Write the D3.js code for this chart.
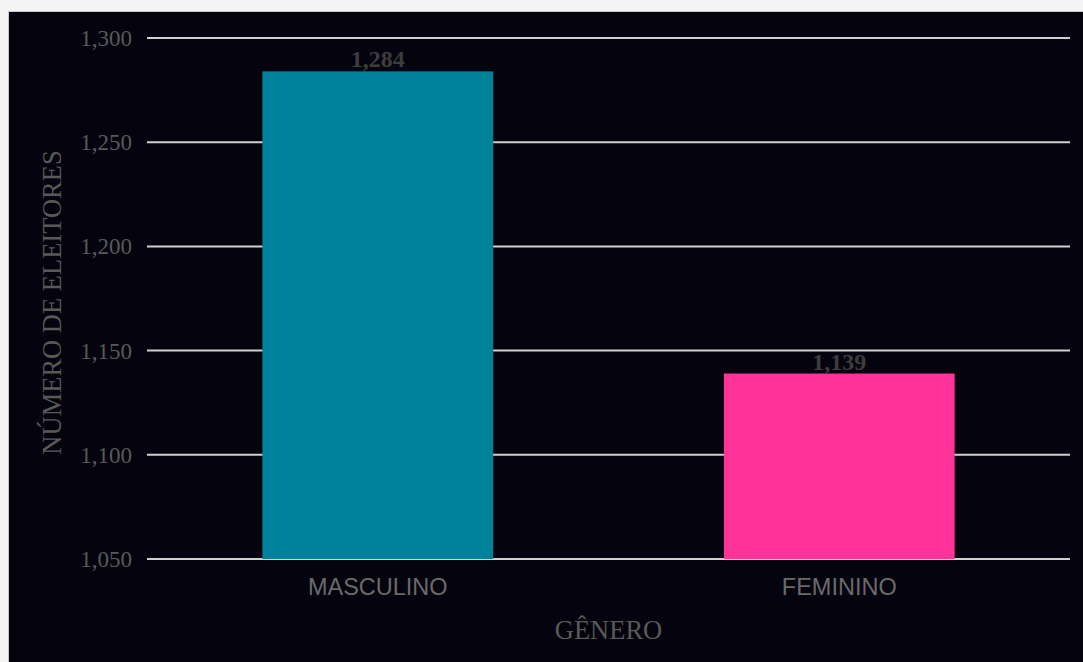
<!DOCTYPE html>
<html>
<head>
<meta charset="utf-8">
<script src="https://cdn.jsdelivr.net/npm/d3@7"></script>
<style>
  html, body { margin: 0; padding: 0; background: #f2f2f2; }
  svg { display: block; }
</style>
</head>
<body>
<svg id="chart" width="1083" height="662"></svg>
<script>
// Eleitores por gênero
const categories = ["MASCULINO", "FEMININO"];
const voters = [1284, 1139];
const barColors = ["#01829b", "#ff3399"];
const yTicks = [1050, 1100, 1150, 1200, 1250, 1300];

const W = 1083, H = 662;
const svg = d3.select("#chart");

// panel frame
svg.append("rect").attr("x", 0).attr("y", 0).attr("width", W).attr("height", H).attr("fill", "#f4f4f4");
svg.append("rect").attr("x", 8).attr("y", 11).attr("width", W - 8).attr("height", H - 11).attr("fill", "#c8c8c8");
svg.append("rect").attr("x", 9).attr("y", 12).attr("width", W - 9).attr("height", H - 12).attr("fill", "#05040e");

const plot = { left: 147, right: 1070, top: 38, bottom: 559 };

const x = d3.scaleBand().domain(categories).range([plot.left, plot.right])
  .paddingInner(0.5).paddingOuter(0.25);
const y = d3.scaleLinear().domain([1050, 1300]).range([plot.bottom, plot.top]);

// gridlines
svg.append("g").selectAll("line").data(yTicks).join("line")
  .attr("x1", plot.left).attr("x2", plot.right)
  .attr("y1", d => y(d)).attr("y2", d => y(d))
  .attr("stroke", "#d0d0d0").attr("stroke-width", 2);

// y tick labels
const fmt = d3.format(",");
svg.append("g").selectAll("text").data(yTicks).join("text")
  .attr("x", 132).attr("y", d => y(d)).attr("dy", "0.35em")
  .attr("text-anchor", "end")
  .attr("font-family", "'Liberation Serif', 'Times New Roman', serif")
  .attr("font-size", 23).attr("fill", "#595959")
  .text(d => fmt(d));

// bars
svg.append("g").selectAll("rect").data(voters).join("rect")
  .attr("x", (d, i) => x(categories[i]))
  .attr("width", x.bandwidth())
  .attr("y", d => y(d))
  .attr("height", d => y(1050) - y(d))
  .attr("fill", (d, i) => barColors[i]);

// value labels
svg.append("g").selectAll("text").data(voters).join("text")
  .attr("x", (d, i) => x(categories[i]) + x.bandwidth() / 2)
  .attr("y", d => y(d) - 4)
  .attr("text-anchor", "middle")
  .attr("font-family", "'Liberation Serif', 'Times New Roman', serif")
  .attr("font-weight", "bold")
  .attr("font-size", 24).attr("fill", "#3d3d3d")
  .text(d => fmt(d));

// x tick labels
svg.append("g").selectAll("text").data(categories).join("text")
  .attr("x", d => x(d) + x.bandwidth() / 2)
  .attr("y", 587).attr("dy", "0.35em")
  .attr("text-anchor", "middle")
  .attr("font-family", "'Liberation Sans', Arial, sans-serif")
  .attr("font-size", 23.5).attr("fill", "#6a6a6a")
  .text(d => d);

// axis titles
svg.append("text")
  .attr("x", (plot.left + plot.right) / 2).attr("y", 630).attr("dy", "0.35em")
  .attr("text-anchor", "middle")
  .attr("font-family", "'Liberation Serif', 'Times New Roman', serif")
  .attr("font-size", 26.5).attr("fill", "#595959")
  .text("GÊNERO");

svg.append("text")
  .attr("transform", `translate(52,${(plot.top + plot.bottom) / 2 + 4}) rotate(-90)`)
  .attr("dy", "0.35em")
  .attr("text-anchor", "middle")
  .attr("font-family", "'Liberation Serif', 'Times New Roman', serif")
  .attr("font-size", 26.5).attr("fill", "#595959")
  .text("NÚMERO DE ELEITORES");
</script>
</body>
</html>
